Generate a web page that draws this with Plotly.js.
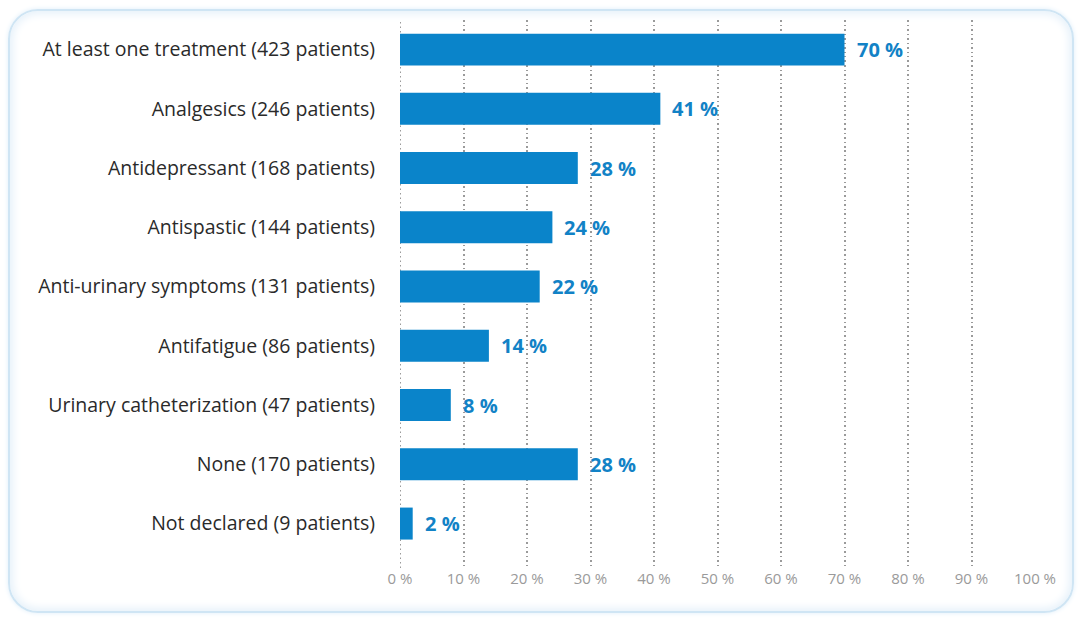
<!DOCTYPE html>
<html>
<head>
<meta charset="utf-8">
<script src="https://cdn.plot.ly/plotly-3.0.1.min.js"></script>
<style>
html,body{margin:0;padding:0;background:#ffffff;}
#frame{position:absolute;left:8px;top:9px;width:1066px;height:604px;border:2px solid #cfe5f4;border-radius:30px;box-shadow:0 0 8px 3px #e6f1fa inset, 0 0 5px #dfeef9;box-sizing:border-box;}
#chart{position:absolute;left:0;top:0;width:1080px;height:620px;}
</style>
</head>
<body>
<div id="frame"></div>
<div id="chart"></div>
<script>
const categories = [
  "At least one treatment (423 patients)",
  "Analgesics (246 patients)",
  "Antidepressant (168 patients)",
  "Antispastic (144 patients)",
  "Anti-urinary symptoms (131 patients)",
  "Antifatigue (86 patients)",
  "Urinary catheterization (47 patients)",
  "None (170 patients)",
  "Not declared (9 patients)"
];
const percentages = [70, 41, 28, 24, 22, 14, 8, 28, 2];
const tickValues = [0, 10, 20, 30, 40, 50, 60, 70, 80, 90, 100];

const blue = "#0a84ca";
const gridColor = "#9a9a9a";

const trace = {
  type: "bar",
  orientation: "h",
  y: categories,
  x: percentages,
  marker: {color: blue},
  width: 0.54,
  hoverinfo: "none"
};

const annotations = categories.map((c, i) => ({
  x: percentages[i], y: c, xref: "x", yref: "y",
  text: "<b>" + percentages[i] + " %</b>",
  showarrow: false, xanchor: "left", yanchor: "middle", xshift: 10,
  font: {family: "Open Sans, sans-serif", size: 20, color: "#1282c6"}
}));

const layout = {
  width: 1080, height: 620,
  margin: {l: 400, r: 45, t: 20, b: 52},
  paper_bgcolor: "rgba(0,0,0,0)",
  plot_bgcolor: "rgba(0,0,0,0)",
  showlegend: false,
  bargap: 0.46,
  xaxis: {
    range: [0, 100],
    tickvals: tickValues,
    ticktext: tickValues.map(v => v + " %"),
    showgrid: true, gridcolor: gridColor, gridwidth: 2, griddash: "1.5px,3px",
    zeroline: false, showline: false, ticks: "",
    tickfont: {family: "Open Sans, sans-serif", size: 15, color: "#9a9a9a"},
    fixedrange: true
  },
  yaxis: {
    range: [8.75, -0.5],
    showgrid: false, zeroline: false, showline: false, ticks: "",
    ticklabelstandoff: 24,
    tickfont: {family: "Open Sans, sans-serif", size: 19.5, color: "#2a2a2a"},
    fixedrange: true
  },
  shapes: [{
    type: "line", xref: "x", yref: "paper", x0: 0, x1: 0, y0: 0, y1: 1,
    line: {color: gridColor, width: 2, dash: "1.5px,3px"}, layer: "below"
  }],
  annotations: annotations
};

Plotly.newPlot("chart", [trace], layout, {displayModeBar: false, staticPlot: true});
</script>
</body>
</html>
